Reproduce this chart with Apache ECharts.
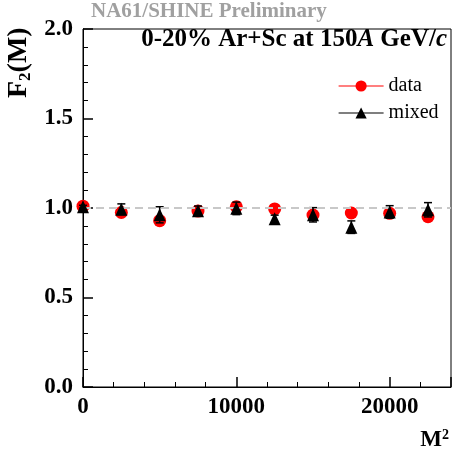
<!DOCTYPE html>
<html>
<head>
<meta charset="utf-8">
<script src="https://cdn.jsdelivr.net/npm/echarts@6/dist/echarts.min.js"></script>
<style>html,body{margin:0;padding:0;background:#fff}#c{width:454px;height:452px}</style>
</head>
<body>
<div id="c"></div>
<script>
const xVals = [0, 2500, 5000, 7500, 10000, 12500, 15000, 17500, 20000, 22500];
const dataY = [1.010, 0.975, 0.929, 0.983, 1.007, 0.995, 0.961, 0.972, 0.970, 0.951];
const dataErr = [0.012, 0.015, 0.015, 0.015, 0.018, 0.018, 0.018, 0.018, 0.018, 0.02];
const mixedY = [1.007, 0.993, 0.962, 0.985, 0.998, 0.940, 0.962, 0.893, 0.978, 0.990];
const mixedErr = [0.008, 0.03, 0.045, 0.026, 0.035, 0.02, 0.04, 0.035, 0.035, 0.04];
const yTicks = [0, 0.5, 1.0, 1.5, 2.0];
const xTicks = [0, 10000, 20000];
const refLine = 1.0;

const FONT = 'Liberation Serif';
const chart = echarts.init(document.getElementById('c'), null, {renderer: 'canvas'});

function errBar(color) {
  return function (params, api) {
    const x = api.value(0), y = api.value(1), e = api.value(2);
    const t = api.coord([x, y + e]), b = api.coord([x, y - e]);
    const w = 4;
    const st = {stroke: color, lineWidth: 1.5};
    return {type: 'group', children: [
      {type: 'line', shape: {x1: t[0], y1: t[1], x2: b[0], y2: b[1]}, style: st},
      {type: 'line', shape: {x1: t[0] - w, y1: t[1], x2: t[0] + w, y2: t[1]}, style: st},
      {type: 'line', shape: {x1: b[0] - w, y1: b[1], x2: b[0] + w, y2: b[1]}, style: st}
    ]};
  };
}

const dataPts = xVals.map((x, i) => [x, dataY[i], dataErr[i]]);
const mixedPts = xVals.map((x, i) => [x, mixedY[i], mixedErr[i]]);

chart.setOption({
  animation: false,
  grid: {left: 83, right: 1, top: 29, bottom: 65, show: true, borderColor: '#000', borderWidth: 1},
  xAxis: {
    type: 'value', min: 0, max: 24000, interval: 10000,
    axisLine: {show: true, lineStyle: {color: '#000', width: 1}},
    axisTick: {show: true, inside: true, length: 10, lineStyle: {color: '#000', width: 1.5}},
    minorTick: {show: true, splitNumber: 5, length: 5, lineStyle: {color: '#000', width: 1}},
    splitLine: {show: false},
    axisLabel: {color: '#000', fontFamily: FONT, fontWeight: 'bold', fontSize: 23, margin: 9,
      formatter: v => xTicks.includes(v) ? String(v) : ''}
  },
  yAxis: {
    type: 'value', min: 0, max: 2, interval: 0.5,
    axisLine: {show: true, lineStyle: {color: '#000', width: 1}},
    axisTick: {show: true, inside: true, length: 10, lineStyle: {color: '#000', width: 1.5}},
    minorTick: {show: true, splitNumber: 5, length: 5, lineStyle: {color: '#000', width: 1}},
    splitLine: {show: false},
    axisLabel: {color: '#000', fontFamily: FONT, fontWeight: 'bold', fontSize: 23, margin: 10,
      formatter: v => yTicks.includes(v) ? v.toFixed(1) : ''}
  },
  legend: {
    left: 333, top: 71, orient: 'vertical', itemGap: 7, itemWidth: 45, itemHeight: 14,
    data: ['data', 'mixed'],
    lineStyle: {width: 1.2, opacity: 1},
    textStyle: {fontFamily: FONT, fontSize: 20, color: '#000', padding: [0, 0, 0, 0]}
  },
  series: [
    {
      name: 'dataErr', type: 'custom', renderItem: errBar('#ff0000'), data: dataPts,
      encode: {x: 0, y: 1}, z: 2, silent: true,
      markLine: {silent: true, symbol: 'none', label: {show: false},
        lineStyle: {color: '#c8c8c8', type: [8, 5], width: 2},
        data: [{yAxis: refLine}]}
    },
    {
      name: 'data', type: 'line', data: dataPts.map(p => [p[0], p[1]]),
      symbol: 'circle', symbolSize: 13, showSymbol: true,
      itemStyle: {color: '#ff0000'}, lineStyle: {color: '#ff0000', width: 0, opacity: 0}, z: 3
    },
    {
      name: 'mixedErr', type: 'custom', renderItem: errBar('#000000'), data: mixedPts,
      encode: {x: 0, y: 1}, z: 4, silent: true
    },
    {
      name: 'mixed', type: 'line', data: mixedPts.map(p => [p[0], p[1]]),
      symbol: 'triangle', symbolSize: [12, 13], showSymbol: true,
      itemStyle: {color: '#000000'}, lineStyle: {color: '#000000', width: 0, opacity: 0}, z: 5
    }
  ],
  graphic: [
    {type: 'text', left: 91, top: 1, style: {text: 'NA61/SHINE Preliminary', fill: '#a0a0a0',
      font: 'bold 21px "Liberation Serif"'}},
    {type: 'text', right: 7, top: 27, style: {
      text: '{n|0-20% Ar+Sc at 150}{i|A}{n| GeV/}{i|c}',
      rich: {
        n: {fontFamily: FONT, fontWeight: 'bold', fontSize: 25, fill: '#000'},
        i: {fontFamily: FONT, fontWeight: 'bold', fontStyle: 'italic', fontSize: 25, fill: '#000'}
      }}},
    {type: 'text', x: 3, y: 98, rotation: Math.PI / 2, style: {
      text: '{a|F}{b|2}{a|(M)}',
      rich: {
        a: {fontFamily: FONT, fontWeight: 'bold', fontSize: 28, fill: '#000'},
        b: {fontFamily: FONT, fontWeight: 'bold', fontSize: 17, fill: '#000', padding: [14, 0, 0, 0]}
      }}},
    {type: 'text', right: 5, top: 428, style: {
      text: '{a|M}{b|2}',
      rich: {
        a: {fontFamily: FONT, fontWeight: 'bold', fontSize: 23, fill: '#000'},
        b: {fontFamily: FONT, fontWeight: 'bold', fontSize: 14, fill: '#000', padding: [0, 0, 10, 0]}
      }}}
  ]
});
</script>
</body>
</html>
